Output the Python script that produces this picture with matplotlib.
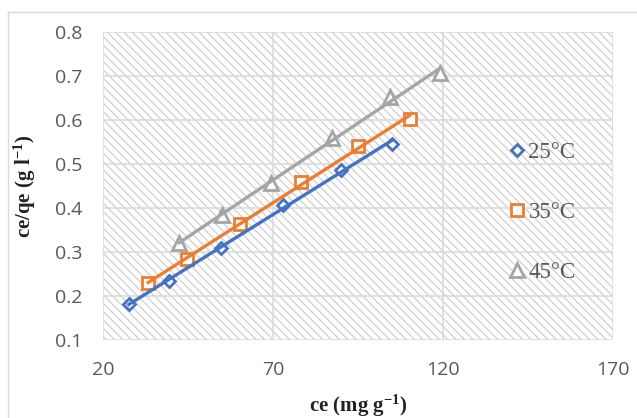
import numpy as np
import matplotlib
matplotlib.use('Agg')
import matplotlib.pyplot as plt
from matplotlib.lines import Line2D
from matplotlib.patches import Rectangle

# 字体设置
plt.rcParams['font.family'] = ['Open Sans', 'DejaVu Sans']
plt.rcParams['mathtext.fontset'] = 'custom'
plt.rcParams['mathtext.rm'] = 'Liberation Serif:bold'
plt.rcParams['mathtext.it'] = 'Liberation Serif:italic:bold'
plt.rcParams['mathtext.bf'] = 'Liberation Serif:bold'
plt.rcParams['hatch.linewidth'] = 0.75

# 数据
ce_25 = [27.6, 39.3, 54.7, 72.9, 89.9, 105.0]
ratio_25 = [0.181, 0.233, 0.310, 0.407, 0.486, 0.546]
ce_35 = [33.3, 44.8, 60.3, 78.2, 95.0, 110.2]
ratio_35 = [0.229, 0.285, 0.363, 0.460, 0.541, 0.602]
ce_45 = [42.4, 54.9, 69.3, 87.4, 104.4, 119.1]
ratio_45 = [0.320, 0.384, 0.457, 0.559, 0.652, 0.707]

labels = ['25°C', '35°C', '45°C']
x_ticks = [20, 70, 120, 170]
y_ticks = [0.1, 0.2, 0.3, 0.4, 0.5, 0.6, 0.7, 0.8]

series = [
    (ce_25, ratio_25, '#4472C4', 'D', 6.5),
    (ce_35, ratio_35, '#ED7D31', 's', 9.2),
    (ce_45, ratio_45, '#A5A5A5', '^', 10),
]

fig = plt.figure(figsize=(6.37, 4.18), dpi=100)
ax = fig.add_axes([103 / 637, 78 / 418, 510 / 637, 308 / 418])

# 背景斜线填充
ax.add_patch(Rectangle((0, 0), 1, 1, transform=ax.transAxes, facecolor='white',
                       edgecolor='#c8c8c8', hatch='\\\\\\\\', linewidth=0, zorder=0))

handles = []
for (x, y, color, marker, ms), lab in zip(series, labels):
    x = np.array(x)
    y = np.array(y)
    ax.plot(x, y, linestyle='none', marker=marker, markersize=ms,
            markerfacecolor='white', markeredgecolor=color, markeredgewidth=2.0, zorder=3)
    # 线性趋势线
    k, b = np.polyfit(x, y, 1)
    xs = np.array([x.min(), x.max()])
    ax.plot(xs, k * xs + b, color=color, linewidth=2.4, zorder=4)
    handles.append(Line2D([], [], linestyle='none', marker=marker, markersize=ms,
                          markerfacecolor='white', markeredgecolor=color,
                          markeredgewidth=2.0, label=lab))

ax.set_xlim(20, 170)
ax.set_ylim(0.1, 0.8)
ax.set_xticks(x_ticks)
ax.set_yticks(y_ticks)
ax.set_yticklabels([f'{v:.1f}' for v in y_ticks])
ax.grid(True, color='#d9d9d9', linewidth=1.1, zorder=1)
ax.set_axisbelow(False)
for sp in ax.spines.values():
    sp.set_visible(False)
ax.tick_params(length=0, labelsize=14, labelcolor='#595959')
ax.tick_params(axis='x', pad=15)
ax.tick_params(axis='y', pad=15)

ax.set_xlabel('ce (mg g$^{-1}$)', fontfamily='Liberation Serif', fontweight='bold',
              fontsize=15, color='#222222')
ax.xaxis.set_label_coords(0.5, -0.172)
ax.set_ylabel('ce/qe (g l$^{-1}$)', fontfamily='Liberation Serif', fontweight='bold',
              fontsize=15, color='#222222')
ax.yaxis.set_label_coords(-0.128, 0.5)

leg = fig.legend(handles=handles, loc='upper left', bbox_to_anchor=(509 / 637, 1 - 142 / 418),
                 frameon=False, borderpad=0, borderaxespad=0, handlelength=0.7,
                 handletextpad=0.15, labelspacing=1.7,
                 prop={'family': 'Liberation Serif', 'size': 16.5})
for t in leg.get_texts():
    t.set_color('#595959')

# 外框
fig.add_artist(Line2D([8 / 637, 1], [1 - 12 / 418, 1 - 12 / 418], transform=fig.transFigure,
                      color='#d9d9d9', linewidth=1))
fig.add_artist(Line2D([8 / 637, 8 / 637], [0, 1 - 12 / 418], transform=fig.transFigure,
                      color='#d9d9d9', linewidth=1))

fig.savefig('out.png', dpi=100)
